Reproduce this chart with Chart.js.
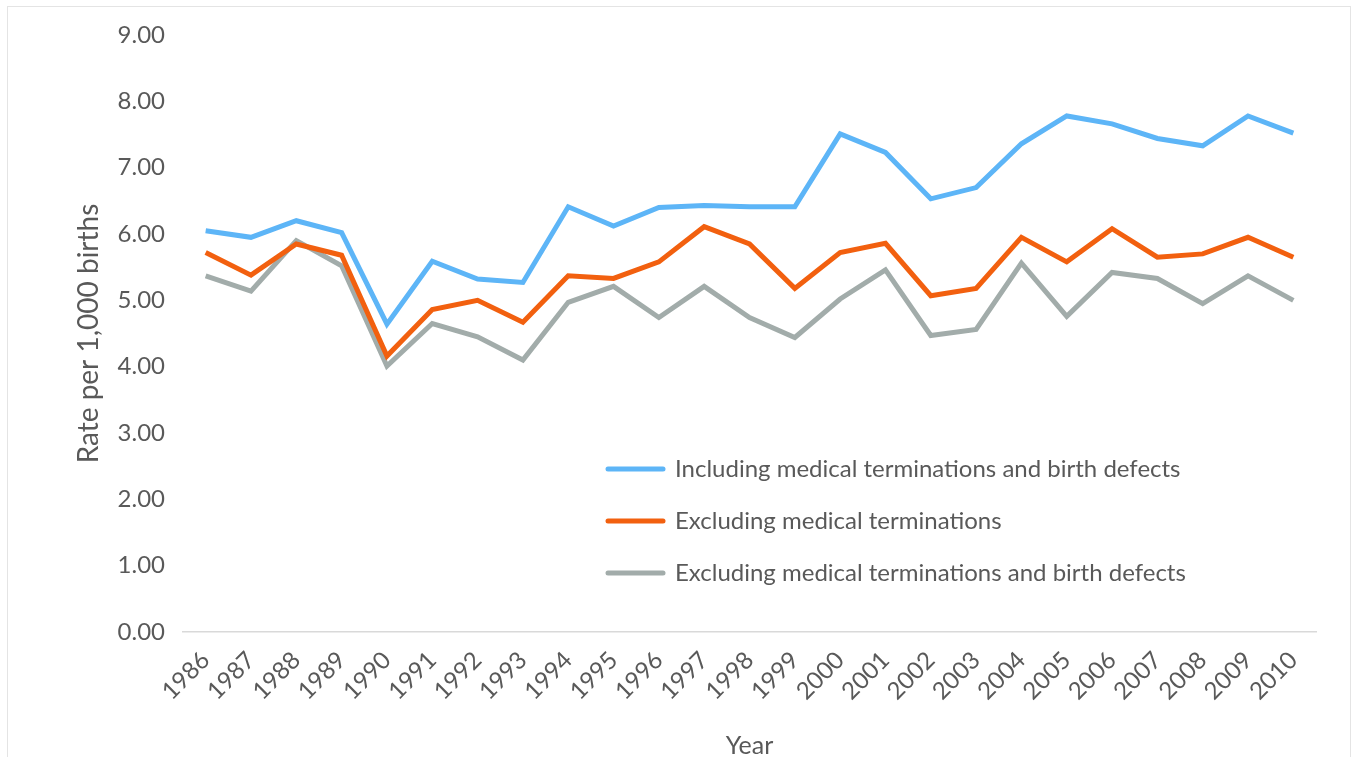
<!DOCTYPE html>
<html>
<head>
<meta charset="utf-8">
<script src="https://cdn.jsdelivr.net/npm/chart.js@4.4.1/dist/chart.umd.min.js"></script>
<style>
  html, body { margin: 0; padding: 0; background: #fff; overflow: hidden; }
  #wrap { position: relative; width: 1352px; height: 757px; }
  #frame {
    position: absolute; left: 7px; top: 6px; width: 1342px; height: 760px;
    border: 1px solid #e4e4e4; pointer-events: none;
  }
</style>
</head>
<body>
<div id="wrap"><canvas id="chart" width="1352" height="757"></canvas><div id="frame"></div></div>
<script>
// rates per 1,000 births
const years = [
  "1986", "1987", "1988", "1989", "1990", "1991", "1992", "1993", "1994",
  "1995", "1996", "1997", "1998", "1999", "2000", "2001", "2002", "2003",
  "2004", "2005", "2006", "2007", "2008", "2009", "2010",
];
const inclTerminationsDefects = [
  6.05, 5.95, 6.20, 6.02, 4.64, 5.59, 5.32, 5.27, 6.41,
  6.12, 6.40, 6.43, 6.41, 6.41, 7.51, 7.23, 6.53, 6.70,
  7.36, 7.78, 7.66, 7.44, 7.33, 7.78, 7.52,
];
const exclTerminations = [
  5.72, 5.38, 5.85, 5.68, 4.16, 4.86, 5.00, 4.67, 5.37,
  5.33, 5.58, 6.11, 5.85, 5.18, 5.72, 5.86, 5.07, 5.18,
  5.95, 5.58, 6.08, 5.65, 5.70, 5.95, 5.65,
];
const exclTerminationsDefects = [
  5.37, 5.14, 5.90, 5.52, 4.01, 4.65, 4.45, 4.10, 4.97,
  5.21, 4.74, 5.21, 4.74, 4.44, 5.02, 5.46, 4.47, 4.56,
  5.56, 4.76, 5.42, 5.33, 4.95, 5.37, 5.00,
];
const seriesLabels = [
  "Including medical terminations and birth defects",
  "Excluding medical terminations",
  "Excluding medical terminations and birth defects",
];
const seriesColors = ["#5DB5F7", "#F2600F", "#A2ACAA"];

const TEXT_COLOR = "#595959";
const FONT_FAMILY = "Lato, 'Open Sans', sans-serif";

// legend sits inside the plot, lower right, like the Excel original
const insideLegend = {
  id: "insideLegend",
  afterDraw(chart) {
    const { ctx, chartArea } = chart;
    const x0 = chartArea.left + 425;
    const y0 = chartArea.top + 434;
    const rowGap = 52;
    ctx.save();
    ctx.font = "24px " + FONT_FAMILY;
    ctx.textBaseline = "middle";
    chart.data.datasets.forEach((ds, i) => {
      const y = y0 + i * rowGap;
      ctx.strokeStyle = ds.borderColor;
      ctx.lineWidth = 5;
      ctx.lineCap = "round";
      ctx.beginPath();
      ctx.moveTo(x0, y);
      ctx.lineTo(x0 + 55, y);
      ctx.stroke();
      ctx.fillStyle = TEXT_COLOR;
      ctx.fillText(ds.label, x0 + 67, y);
    });
    ctx.restore();
  },
};

const makeDataset = (label, data, color) => ({
  label,
  data,
  borderColor: color,
  backgroundColor: color,
  borderWidth: 5,
  pointRadius: 0,
  tension: 0,
  fill: false,
});

new Chart(document.getElementById("chart"), {
  type: "line",
  data: {
    labels: years,
    datasets: [
      makeDataset(seriesLabels[0], inclTerminationsDefects, seriesColors[0]),
      makeDataset(seriesLabels[1], exclTerminations, seriesColors[1]),
      makeDataset(seriesLabels[2], exclTerminationsDefects, seriesColors[2]),
    ],
  },
  options: {
    responsive: false,
    animation: false,
    layout: { padding: { left: 72, right: 36, top: 35, bottom: -4 } },
    plugins: {
      legend: { display: false },
      tooltip: { enabled: false },
    },
    scales: {
      x: {
        offset: true,
        grid: { display: false, drawTicks: false },
        border: { display: true, color: "#D9D9D9", width: 1.5 },
        ticks: {
          color: TEXT_COLOR,
          font: { family: FONT_FAMILY, size: 24 },
          minRotation: 45,
          maxRotation: 45,
          padding: 14,
          autoSkip: false,
        },
        title: {
          display: true,
          text: "Year",
          color: TEXT_COLOR,
          font: { family: FONT_FAMILY, size: 25 },
          padding: { top: 0, bottom: 0 },
        },
        afterFit: (scale) => { scale.height = 129; },
      },
      y: {
        min: 0,
        max: 9,
        grid: { display: false, drawTicks: false },
        border: { display: false },
        ticks: {
          stepSize: 1,
          color: TEXT_COLOR,
          font: { family: FONT_FAMILY, size: 24 },
          padding: 18,
          callback: (v) => Number(v).toFixed(2),
        },
        title: {
          display: true,
          text: "Rate per 1,000 births",
          color: TEXT_COLOR,
          font: { family: FONT_FAMILY, size: 28 },
          padding: { top: 0, bottom: 0 },
        },
        afterFit: (scale) => { scale.width = 183 - 72; },
      },
    },
  },
  plugins: [insideLegend],
});
</script>
</body>
</html>
